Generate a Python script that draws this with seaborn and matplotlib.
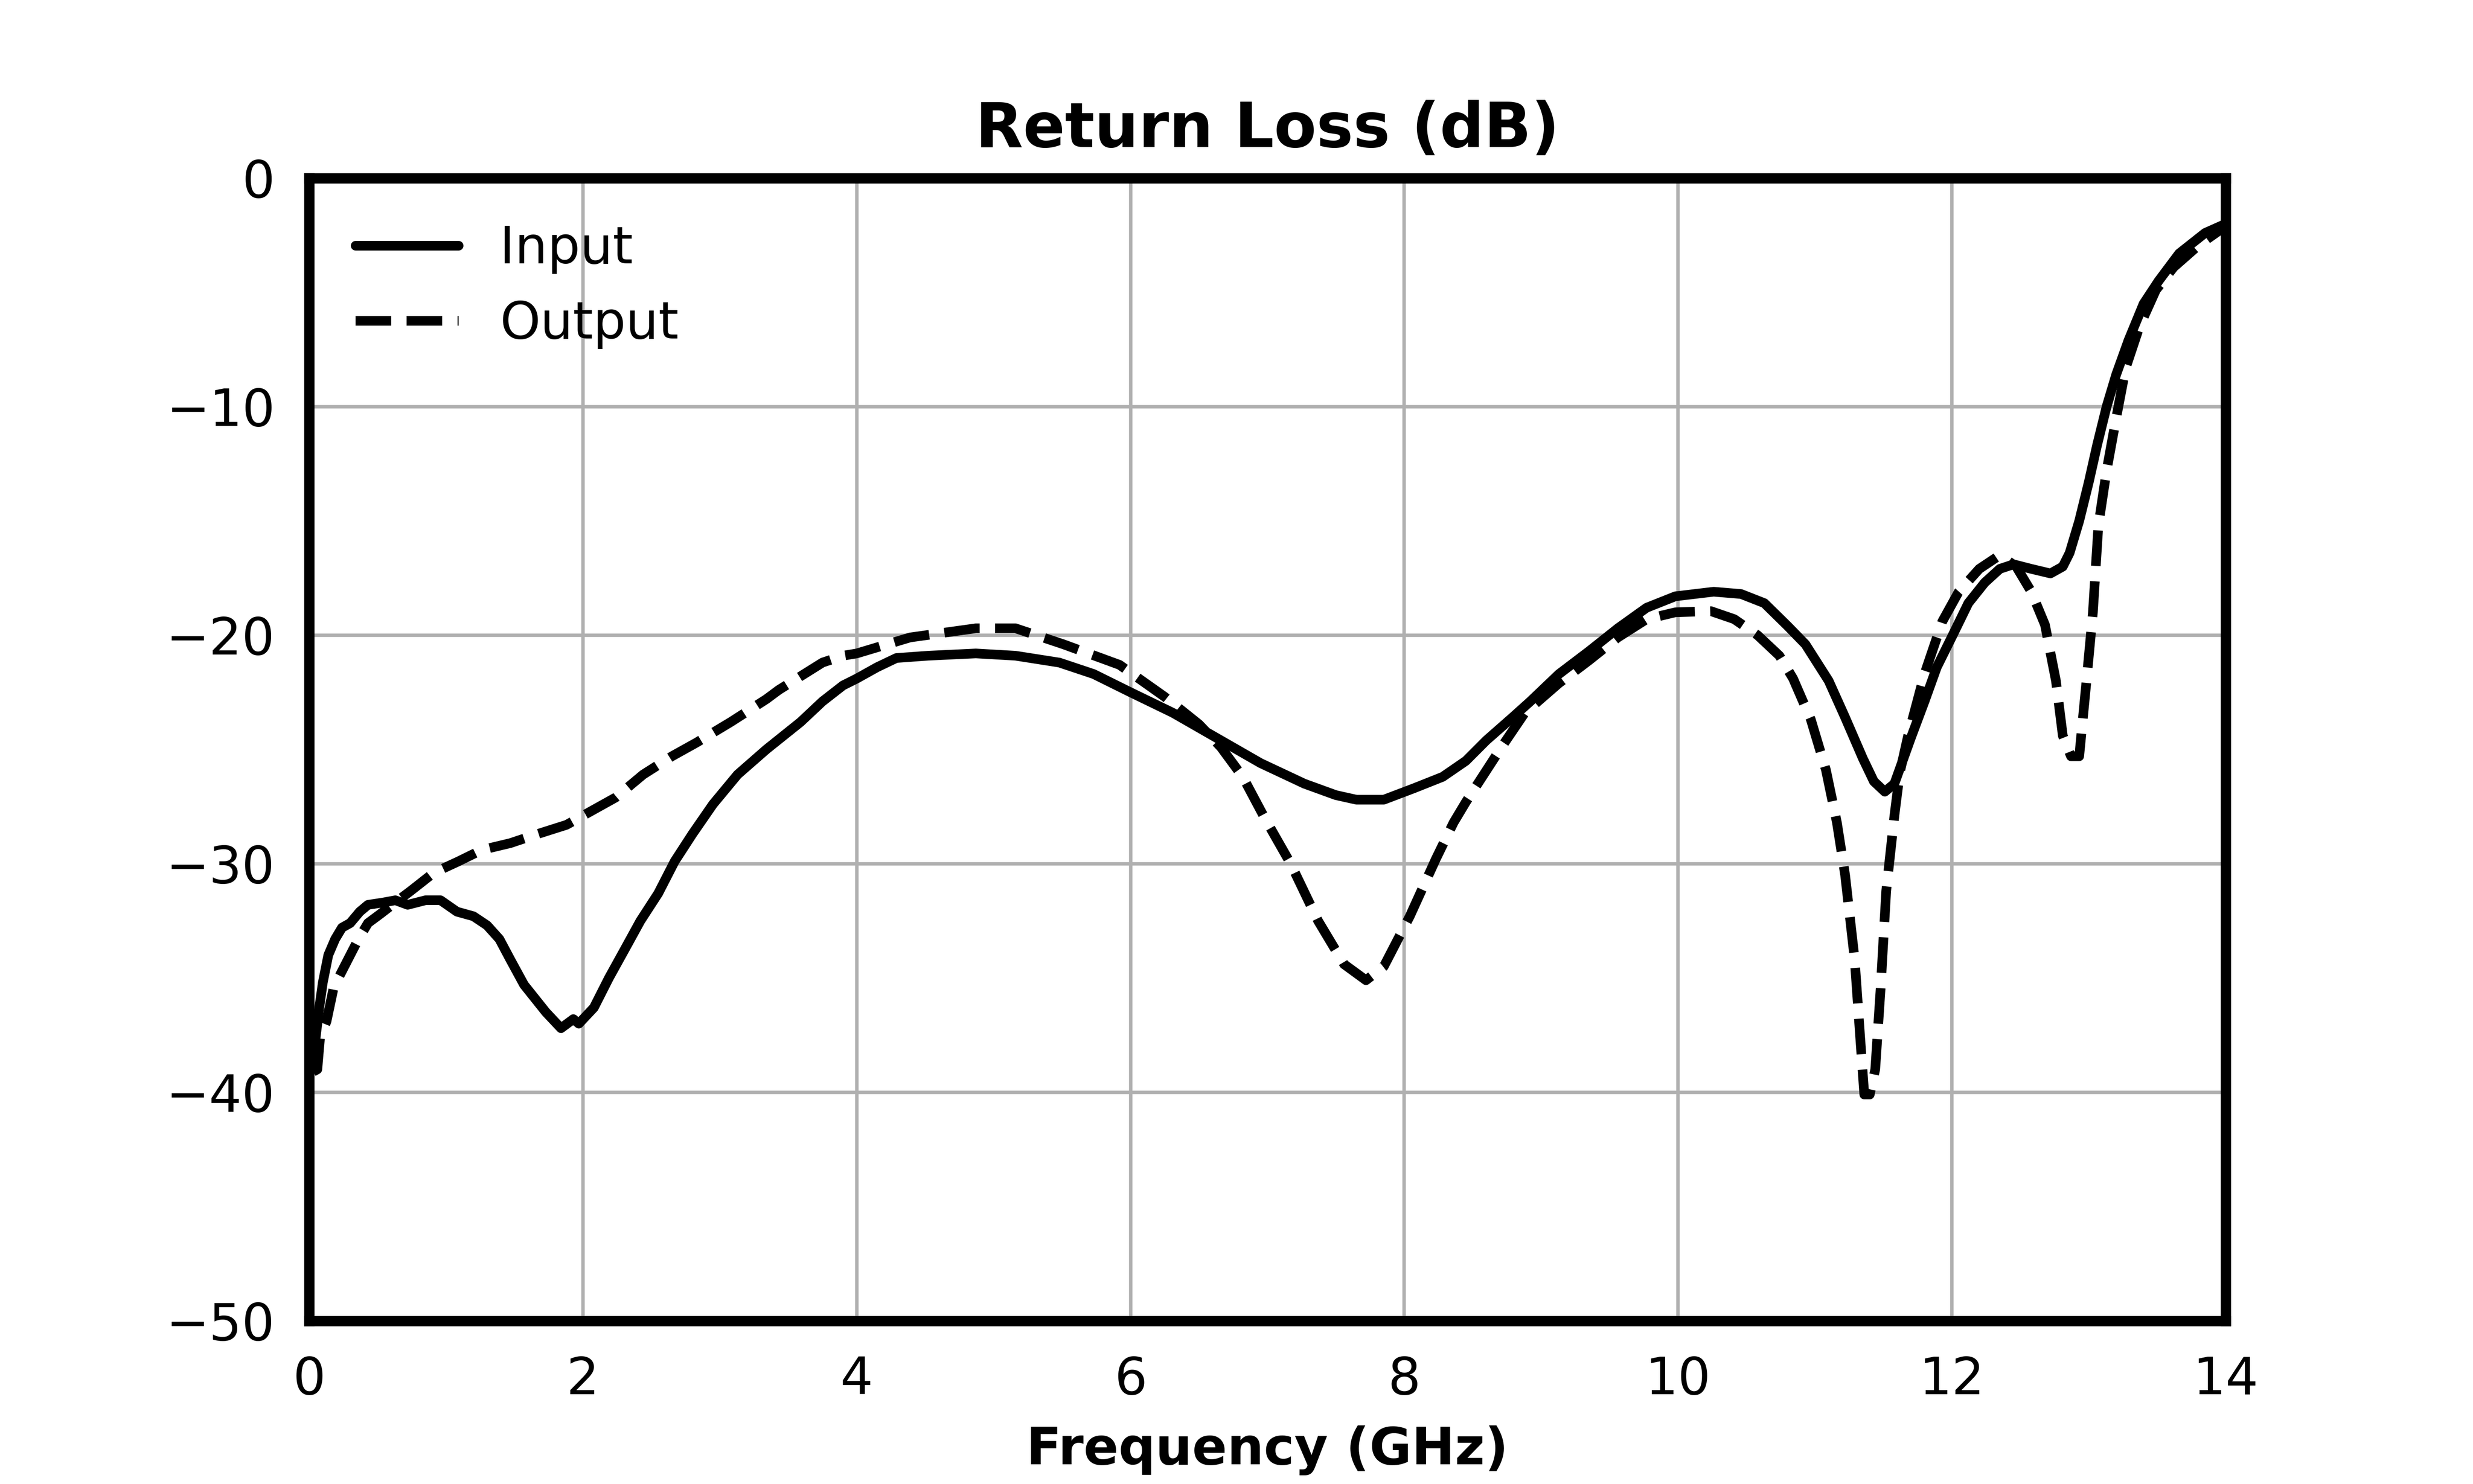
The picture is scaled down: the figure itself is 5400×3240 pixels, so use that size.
import matplotlib
matplotlib.use("Agg")
import matplotlib.pyplot as plt
import seaborn as sns
import pandas as pd

# ---- data ----
input_freq = [0.02, 0.05, 0.074, 0.10, 0.14, 0.19, 0.24, 0.30, 0.37, 0.43, 0.54, 0.63, 0.72, 0.85,
              0.96, 1.08, 1.20, 1.30, 1.39, 1.47, 1.57, 1.65, 1.73, 1.84, 1.93, 1.97, 2.08, 2.19,
              2.31, 2.42, 2.55, 2.67, 2.80, 2.95, 3.13, 3.34, 3.59, 3.75, 3.90, 4.00, 4.15, 4.29,
              4.52, 4.87, 5.16, 5.48, 5.73, 6.00, 6.31, 6.63, 6.95, 7.27, 7.50, 7.65, 7.85, 8.07,
              8.28, 8.45, 8.60, 8.79, 8.92, 9.13, 9.35, 9.56, 9.77, 9.98, 10.26, 10.46, 10.63,
              10.80, 10.93, 11.10, 11.22, 11.35, 11.43, 11.51, 11.58, 11.70, 11.80, 11.89, 12.01,
              12.12, 12.24, 12.35, 12.45, 12.58, 12.72, 12.81, 12.86, 12.93, 13.00, 13.06, 13.13,
              13.20, 13.29, 13.40, 13.51, 13.66, 13.85, 14.00]
input_db = [-39.0, -37.5, -36.3, -35.2, -34.0, -33.3, -32.8, -32.6, -32.1, -31.8, -31.7, -31.6,
            -31.8, -31.6, -31.6, -32.1, -32.3, -32.7, -33.3, -34.2, -35.3, -35.9, -36.5, -37.2,
            -36.8, -37.0, -36.3, -35.0, -33.7, -32.5, -31.3, -29.9, -28.7, -27.4, -26.1, -25.0,
            -23.8, -22.9, -22.2, -21.9, -21.4, -21.0, -20.9, -20.8, -20.9, -21.2, -21.7, -22.5,
            -23.4, -24.5, -25.6, -26.5, -27.0, -27.2, -27.2, -26.7, -26.2, -25.5, -24.6, -23.6,
            -22.9, -21.7, -20.7, -19.7, -18.8, -18.3, -18.1, -18.2, -18.6, -19.6, -20.4, -22.0,
            -23.6, -25.4, -26.4, -26.85, -26.5, -24.5, -22.9, -21.4, -19.95, -18.6, -17.7, -17.1,
            -16.9, -17.1, -17.3, -17.0, -16.4, -15.0, -13.3, -11.7, -10.0, -8.6, -7.1, -5.5,
            -4.5, -3.3, -2.4, -2.0]

output_freq = [0.03, 0.06, 0.08, 0.127, 0.18, 0.24, 0.30, 0.36, 0.43, 0.52, 0.585, 0.74, 0.91,
               1.09, 1.26, 1.47, 1.67, 1.88, 2.03, 2.24, 2.44, 2.65, 2.83, 3.08, 3.34, 3.43, 3.59,
               3.75, 3.90, 4.00, 4.39, 4.87, 5.16, 5.51, 5.92, 6.25, 6.50, 6.66, 6.82, 6.98, 7.17,
               7.37, 7.56, 7.72, 7.85, 8.04, 8.23, 8.36, 8.45, 8.58, 8.71, 8.88, 9.13, 9.35, 9.56,
               9.77, 9.98, 10.24, 10.41, 10.58, 10.74, 10.84, 10.97, 11.08, 11.16, 11.22, 11.29,
               11.33, 11.36, 11.40, 11.44, 11.48, 11.52, 11.58, 11.62, 11.68, 11.80, 11.93, 12.05,
               12.20, 12.35, 12.47, 12.58, 12.68, 12.76, 12.81, 12.87, 12.93, 12.98, 13.03, 13.07,
               13.13, 13.20, 13.27, 13.37, 13.49, 13.62, 13.81, 14.00]
output_db = [-39.1, -39.0, -37.6, -36.9, -35.4, -34.7, -34.0, -33.3, -32.6, -32.2, -31.9, -31.2,
             -30.4, -29.9, -29.4, -29.1, -28.7, -28.3, -27.8, -27.1, -26.1, -25.3, -24.7, -23.8,
             -22.8, -22.4, -21.8, -21.2, -20.9, -20.8, -20.1, -19.7, -19.7, -20.4, -21.3, -22.7,
             -23.9, -24.9, -26.2, -28.0, -30.0, -32.5, -34.4, -35.1, -34.5, -32.3, -29.8, -28.2,
             -27.3, -26.1, -24.9, -23.4, -22.1, -21.1, -20.1, -19.3, -19.0, -18.95, -19.3, -20.0,
             -20.9, -21.9, -23.7, -25.9, -28.2, -30.5, -34.2, -37.6, -40.1, -40.1, -39.0, -35.4,
             -31.2, -27.9, -26.0, -24.4, -21.7, -19.4, -18.1, -17.1, -16.5, -17.0, -18.1, -19.55,
             -22.0, -24.4, -25.3, -25.3, -22.2, -19.0, -15.2, -12.8, -10.5, -8.3, -6.5, -4.9,
             -3.9, -2.9, -2.1]

x_ticks = [0, 2, 4, 6, 8, 10, 12, 14]
y_ticks = [0, -10, -20, -30, -40, -50]
title_text = "Return Loss (dB)"
xlabel_text = "Frequency (GHz)"

df_in = pd.DataFrame({"freq": input_freq, "db": input_db})
df_out = pd.DataFrame({"freq": output_freq, "db": output_db})

# ---- style ----
sns.set_style("whitegrid")
plt.rcParams["font.family"] = ["DejaVu Sans"]
plt.rcParams["text.color"] = "black"
plt.rcParams["axes.labelcolor"] = "black"
plt.rcParams["xtick.color"] = "black"
plt.rcParams["ytick.color"] = "black"

fig, ax = plt.subplots(figsize=(10, 6), dpi=540)
fig.subplots_adjust(left=0.125, right=0.9, top=0.88, bottom=0.11)

sns.lineplot(data=df_in, x="freq", y="db", ax=ax, color="black", linewidth=2.8,
             estimator=None, label="Input")
sns.lineplot(data=df_out, x="freq", y="db", ax=ax, color="black", linewidth=2.8,
             linestyle="--", estimator=None, label="Output")

ax.set_xlim(0, 14)
ax.set_ylim(-50, 0)
ax.set_xticks(x_ticks)
ax.set_yticks(y_ticks)

ax.grid(True, color="#b0b0b0", linewidth=1.0)
ax.set_axisbelow(True)
for sp in ax.spines.values():
    sp.set_visible(True)
    sp.set_color("black")
    sp.set_linewidth(3)

ax.tick_params(axis="both", which="major", length=0, pad=10, labelsize=15,
               labelcolor="black")

ax.set_title(title_text, fontsize=18, fontweight="bold", pad=9, color="black")
ax.set_xlabel(xlabel_text, fontsize=15, fontweight="bold", color="black", labelpad=6)
ax.set_ylabel("")

leg = ax.legend(loc="upper left", frameon=False, fontsize=15)
for t in leg.get_texts():
    t.set_color("black")

fig.savefig("out.png", dpi=540)
